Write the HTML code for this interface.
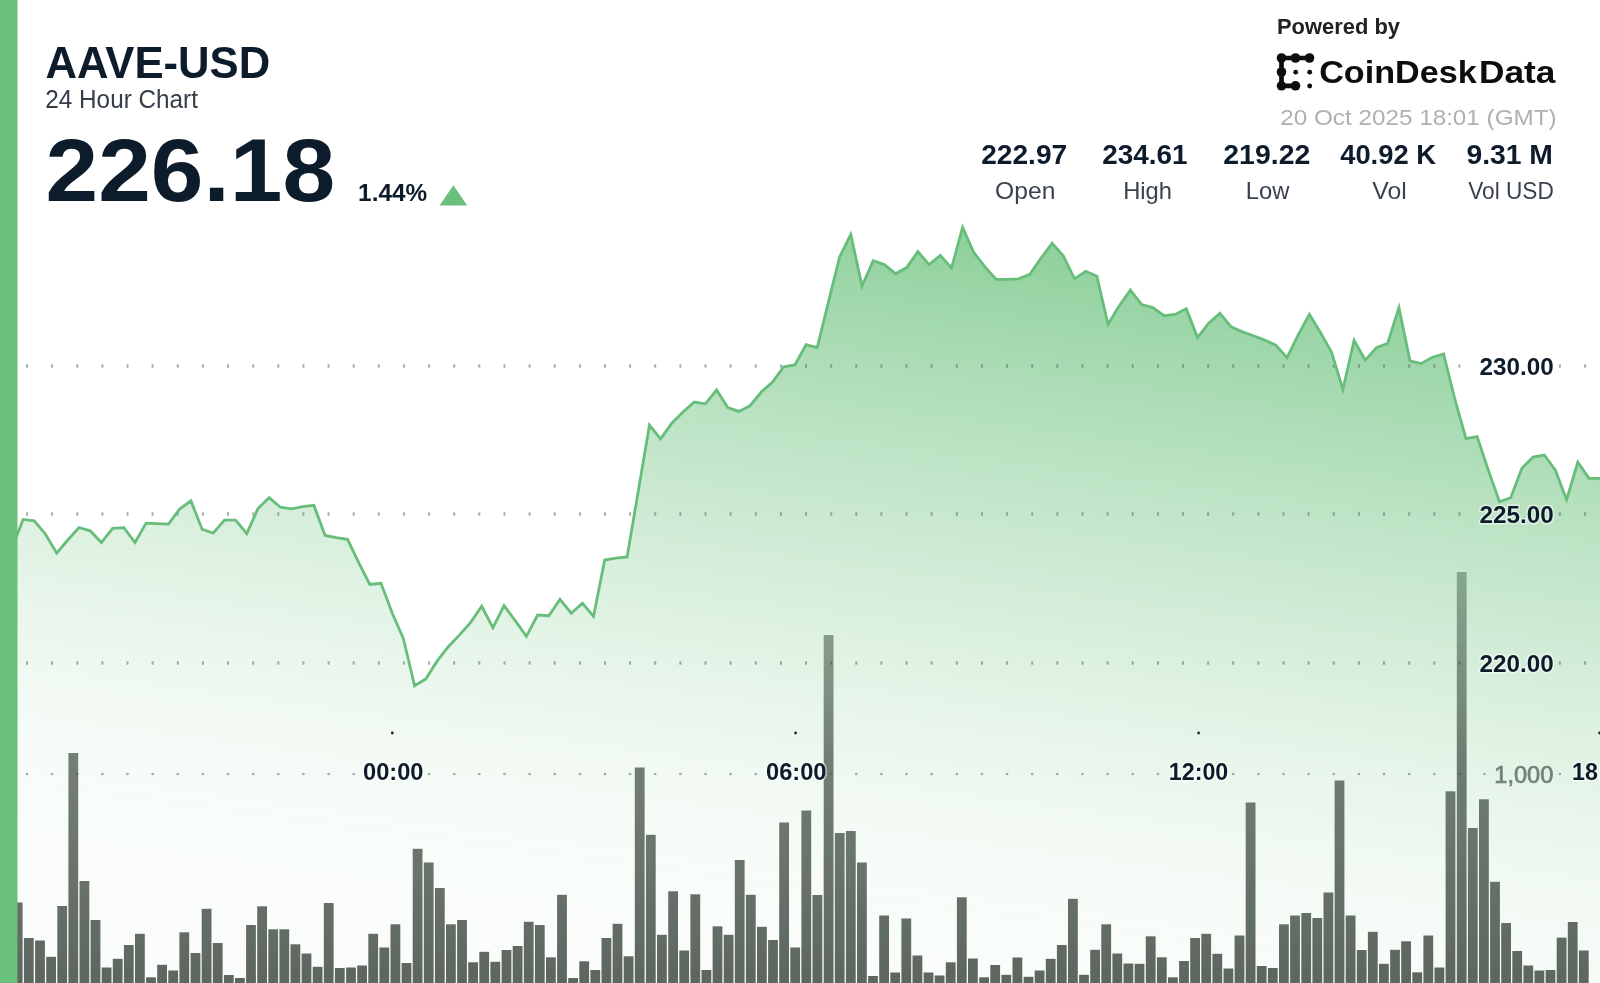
<!DOCTYPE html>
<html><head><meta charset="utf-8"><title>AAVE-USD 24 Hour Chart</title>
<style>
html,body{margin:0;padding:0;background:#fff;}
body{width:1600px;height:983px;overflow:hidden;font-family:"Liberation Sans",sans-serif;}
svg{display:block;font-family:"Liberation Sans",sans-serif;}
</style></head>
<body>
<svg width="1600" height="983" viewBox="0 0 1600 983">
<defs>
<linearGradient id="fillg" gradientUnits="userSpaceOnUse" x1="1045" y1="225" x2="944.5" y2="969.4">
<stop offset="0.0" stop-color="#68c07a" stop-opacity="0.77"/>
<stop offset="0.05" stop-color="#68c07a" stop-opacity="0.715"/>
<stop offset="0.1" stop-color="#68c07a" stop-opacity="0.661"/>
<stop offset="0.15" stop-color="#68c07a" stop-opacity="0.608"/>
<stop offset="0.2" stop-color="#68c07a" stop-opacity="0.557"/>
<stop offset="0.25" stop-color="#68c07a" stop-opacity="0.507"/>
<stop offset="0.3" stop-color="#68c07a" stop-opacity="0.459"/>
<stop offset="0.35" stop-color="#68c07a" stop-opacity="0.412"/>
<stop offset="0.4" stop-color="#68c07a" stop-opacity="0.367"/>
<stop offset="0.45" stop-color="#68c07a" stop-opacity="0.324"/>
<stop offset="0.5" stop-color="#68c07a" stop-opacity="0.282"/>
<stop offset="0.55" stop-color="#68c07a" stop-opacity="0.242"/>
<stop offset="0.6" stop-color="#68c07a" stop-opacity="0.204"/>
<stop offset="0.65" stop-color="#68c07a" stop-opacity="0.168"/>
<stop offset="0.7" stop-color="#68c07a" stop-opacity="0.137"/>
<stop offset="0.75" stop-color="#68c07a" stop-opacity="0.11"/>
<stop offset="0.8" stop-color="#68c07a" stop-opacity="0.085"/>
<stop offset="0.85" stop-color="#68c07a" stop-opacity="0.066"/>
<stop offset="0.9" stop-color="#68c07a" stop-opacity="0.05"/>
<stop offset="0.95" stop-color="#68c07a" stop-opacity="0.039"/>
<stop offset="1.0" stop-color="#68c07a" stop-opacity="0.03"/>
</linearGradient>
<linearGradient id="barg" gradientUnits="userSpaceOnUse" x1="0" y1="572" x2="0" y2="983">
<stop offset="0" stop-color="#34563f" stop-opacity="0.44"/>
<stop offset="0.17" stop-color="#36503e" stop-opacity="0.54"/>
<stop offset="0.45" stop-color="#38483d" stop-opacity="0.69"/>
<stop offset="1" stop-color="#38443b" stop-opacity="0.81"/>
</linearGradient>
<filter id="soft" x="0" y="0" width="1600" height="983" filterUnits="userSpaceOnUse"><feGaussianBlur stdDeviation="0.55"/></filter>
</defs>
<rect width="1600" height="983" fill="#ffffff"/>
<g filter="url(#soft)">
<!-- area fill -->
<path d="M11.9,548.2 L23.1,519.4 L34.3,520.8 L45.5,534.2 L56.7,553.2 L67.8,540.0 L79.0,527.5 L90.2,530.8 L101.4,542.5 L112.6,528.3 L123.8,527.6 L135.0,542.5 L146.1,523.1 L157.3,523.7 L168.5,524.1 L179.7,509.0 L190.9,500.8 L202.1,529.2 L213.2,533.1 L224.4,520.2 L235.6,520.2 L246.8,533.6 L258.0,508.5 L269.2,497.6 L280.4,507.2 L291.5,508.9 L302.7,506.7 L313.9,505.3 L325.1,535.5 L336.3,537.6 L347.5,539.3 L358.7,562.6 L369.8,584.5 L381.0,583.3 L392.2,613.0 L403.4,638.8 L414.6,685.8 L425.8,678.9 L436.9,661.4 L448.1,647.0 L459.3,635.1 L470.5,622.6 L481.7,606.3 L492.9,627.6 L504.1,605.7 L515.2,620.7 L526.4,636.3 L537.6,615.0 L548.8,615.7 L560.0,599.4 L571.2,613.2 L582.4,603.2 L593.5,616.4 L604.7,560.0 L615.9,558.2 L627.1,556.9 L638.3,491.0 L649.5,425.1 L660.6,438.9 L671.8,423.2 L683.0,412.0 L694.2,402.0 L705.4,403.8 L716.6,390.0 L727.8,407.6 L738.9,411.4 L750.1,405.7 L761.3,392.0 L772.5,382.0 L783.7,366.9 L794.9,365.0 L806.1,344.7 L817.2,347.7 L828.4,302.0 L839.6,257.0 L850.8,234.5 L862.0,286.0 L873.2,260.8 L884.3,264.6 L895.5,273.7 L906.7,267.6 L917.9,251.6 L929.1,264.6 L940.3,255.4 L951.5,268.0 L962.6,227.5 L973.8,252.5 L985.0,266.9 L996.2,279.4 L1007.4,279.4 L1018.6,278.8 L1029.8,274.4 L1040.9,258.2 L1052.1,243.1 L1063.3,255.7 L1074.5,278.8 L1085.7,271.3 L1096.9,276.3 L1108.0,324.4 L1119.2,305.7 L1130.4,290.1 L1141.6,304.5 L1152.8,307.6 L1164.0,315.7 L1175.2,314.4 L1186.3,308.8 L1197.5,337.6 L1208.7,323.2 L1219.9,313.2 L1231.1,326.9 L1242.3,331.9 L1253.5,335.7 L1264.6,340.1 L1275.8,345.1 L1287.0,357.6 L1298.2,335.0 L1309.4,314.4 L1320.6,332.6 L1331.7,352.6 L1342.9,389.5 L1354.1,340.3 L1365.3,360.1 L1376.5,347.6 L1387.7,343.2 L1398.9,307.5 L1410.0,360.8 L1421.2,363.6 L1432.4,357.2 L1443.6,354.0 L1454.8,399.0 L1466.0,438.7 L1477.1,436.6 L1488.3,470.2 L1499.5,501.7 L1510.7,497.7 L1521.9,468.2 L1533.1,457.0 L1544.3,455.0 L1555.4,470.2 L1566.6,499.7 L1577.8,462.1 L1589.0,478.4 L1600.2,478.4 L1600.2,983 L11.9,983 Z" fill="url(#fillg)"/>
<!-- grid dots -->
<g id="grid">
<rect x="26.0" y="364.3" width="2" height="3.4" fill="rgba(85,98,92,0.52)"/>
<rect x="51.1" y="364.3" width="2" height="3.4" fill="rgba(85,98,92,0.52)"/>
<rect x="76.3" y="364.3" width="2" height="3.4" fill="rgba(85,98,92,0.52)"/>
<rect x="101.4" y="364.3" width="2" height="3.4" fill="rgba(85,98,92,0.52)"/>
<rect x="126.5" y="364.3" width="2" height="3.4" fill="rgba(85,98,92,0.52)"/>
<rect x="151.6" y="364.3" width="2" height="3.4" fill="rgba(85,98,92,0.52)"/>
<rect x="176.8" y="364.3" width="2" height="3.4" fill="rgba(85,98,92,0.52)"/>
<rect x="201.9" y="364.3" width="2" height="3.4" fill="rgba(85,98,92,0.52)"/>
<rect x="227.0" y="364.3" width="2" height="3.4" fill="rgba(85,98,92,0.52)"/>
<rect x="252.2" y="364.3" width="2" height="3.4" fill="rgba(85,98,92,0.52)"/>
<rect x="277.3" y="364.3" width="2" height="3.4" fill="rgba(85,98,92,0.52)"/>
<rect x="302.4" y="364.3" width="2" height="3.4" fill="rgba(85,98,92,0.52)"/>
<rect x="327.6" y="364.3" width="2" height="3.4" fill="rgba(85,98,92,0.52)"/>
<rect x="352.7" y="364.3" width="2" height="3.4" fill="rgba(85,98,92,0.52)"/>
<rect x="377.8" y="364.3" width="2" height="3.4" fill="rgba(85,98,92,0.52)"/>
<rect x="402.9" y="364.3" width="2" height="3.4" fill="rgba(85,98,92,0.52)"/>
<rect x="428.1" y="364.3" width="2" height="3.4" fill="rgba(85,98,92,0.52)"/>
<rect x="453.2" y="364.3" width="2" height="3.4" fill="rgba(85,98,92,0.52)"/>
<rect x="478.3" y="364.3" width="2" height="3.4" fill="rgba(85,98,92,0.52)"/>
<rect x="503.5" y="364.3" width="2" height="3.4" fill="rgba(85,98,92,0.52)"/>
<rect x="528.6" y="364.3" width="2" height="3.4" fill="rgba(85,98,92,0.52)"/>
<rect x="553.7" y="364.3" width="2" height="3.4" fill="rgba(85,98,92,0.52)"/>
<rect x="578.9" y="364.3" width="2" height="3.4" fill="rgba(85,98,92,0.52)"/>
<rect x="604.0" y="364.3" width="2" height="3.4" fill="rgba(85,98,92,0.52)"/>
<rect x="629.1" y="364.3" width="2" height="3.4" fill="rgba(85,98,92,0.52)"/>
<rect x="654.2" y="364.3" width="2" height="3.4" fill="rgba(85,98,92,0.52)"/>
<rect x="679.4" y="364.3" width="2" height="3.4" fill="rgba(85,98,92,0.52)"/>
<rect x="704.5" y="364.3" width="2" height="3.4" fill="rgba(85,98,92,0.52)"/>
<rect x="729.6" y="364.3" width="2" height="3.4" fill="rgba(85,98,92,0.52)"/>
<rect x="754.8" y="364.3" width="2" height="3.4" fill="rgba(85,98,92,0.52)"/>
<rect x="779.9" y="364.3" width="2" height="3.4" fill="rgba(85,98,92,0.52)"/>
<rect x="805.0" y="364.3" width="2" height="3.4" fill="rgba(85,98,92,0.52)"/>
<rect x="830.2" y="364.3" width="2" height="3.4" fill="rgba(85,98,92,0.52)"/>
<rect x="855.3" y="364.3" width="2" height="3.4" fill="rgba(85,98,92,0.52)"/>
<rect x="880.4" y="364.3" width="2" height="3.4" fill="rgba(85,98,92,0.52)"/>
<rect x="905.5" y="364.3" width="2" height="3.4" fill="rgba(85,98,92,0.52)"/>
<rect x="930.7" y="364.3" width="2" height="3.4" fill="rgba(85,98,92,0.52)"/>
<rect x="955.8" y="364.3" width="2" height="3.4" fill="rgba(85,98,92,0.52)"/>
<rect x="980.9" y="364.3" width="2" height="3.4" fill="rgba(85,98,92,0.52)"/>
<rect x="1006.1" y="364.3" width="2" height="3.4" fill="rgba(85,98,92,0.52)"/>
<rect x="1031.2" y="364.3" width="2" height="3.4" fill="rgba(85,98,92,0.52)"/>
<rect x="1056.3" y="364.3" width="2" height="3.4" fill="rgba(85,98,92,0.52)"/>
<rect x="1081.5" y="364.3" width="2" height="3.4" fill="rgba(85,98,92,0.52)"/>
<rect x="1106.6" y="364.3" width="2" height="3.4" fill="rgba(85,98,92,0.52)"/>
<rect x="1131.7" y="364.3" width="2" height="3.4" fill="rgba(85,98,92,0.52)"/>
<rect x="1156.9" y="364.3" width="2" height="3.4" fill="rgba(85,98,92,0.52)"/>
<rect x="1182.0" y="364.3" width="2" height="3.4" fill="rgba(85,98,92,0.52)"/>
<rect x="1207.1" y="364.3" width="2" height="3.4" fill="rgba(85,98,92,0.52)"/>
<rect x="1232.2" y="364.3" width="2" height="3.4" fill="rgba(85,98,92,0.52)"/>
<rect x="1257.4" y="364.3" width="2" height="3.4" fill="rgba(85,98,92,0.52)"/>
<rect x="1282.5" y="364.3" width="2" height="3.4" fill="rgba(85,98,92,0.52)"/>
<rect x="1307.6" y="364.3" width="2" height="3.4" fill="rgba(85,98,92,0.52)"/>
<rect x="1332.8" y="364.3" width="2" height="3.4" fill="rgba(85,98,92,0.52)"/>
<rect x="1357.9" y="364.3" width="2" height="3.4" fill="rgba(85,98,92,0.52)"/>
<rect x="1383.0" y="364.3" width="2" height="3.4" fill="rgba(85,98,92,0.52)"/>
<rect x="1408.2" y="364.3" width="2" height="3.4" fill="rgba(85,98,92,0.52)"/>
<rect x="1433.3" y="364.3" width="2" height="3.4" fill="rgba(85,98,92,0.52)"/>
<rect x="1458.4" y="364.3" width="2" height="3.4" fill="rgba(85,98,92,0.52)"/>
<rect x="1558.9" y="364.3" width="2" height="3.4" fill="rgba(85,98,92,0.52)"/>
<rect x="1584.1" y="364.3" width="2" height="3.4" fill="rgba(85,98,92,0.52)"/>
<rect x="26.0" y="512.3" width="2" height="3.4" fill="rgba(85,98,92,0.52)"/>
<rect x="51.1" y="512.3" width="2" height="3.4" fill="rgba(85,98,92,0.52)"/>
<rect x="76.3" y="512.3" width="2" height="3.4" fill="rgba(85,98,92,0.52)"/>
<rect x="101.4" y="512.3" width="2" height="3.4" fill="rgba(85,98,92,0.52)"/>
<rect x="126.5" y="512.3" width="2" height="3.4" fill="rgba(85,98,92,0.52)"/>
<rect x="151.6" y="512.3" width="2" height="3.4" fill="rgba(85,98,92,0.52)"/>
<rect x="176.8" y="512.3" width="2" height="3.4" fill="rgba(85,98,92,0.52)"/>
<rect x="201.9" y="512.3" width="2" height="3.4" fill="rgba(85,98,92,0.52)"/>
<rect x="227.0" y="512.3" width="2" height="3.4" fill="rgba(85,98,92,0.52)"/>
<rect x="252.2" y="512.3" width="2" height="3.4" fill="rgba(85,98,92,0.52)"/>
<rect x="277.3" y="512.3" width="2" height="3.4" fill="rgba(85,98,92,0.52)"/>
<rect x="302.4" y="512.3" width="2" height="3.4" fill="rgba(85,98,92,0.52)"/>
<rect x="327.6" y="512.3" width="2" height="3.4" fill="rgba(85,98,92,0.52)"/>
<rect x="352.7" y="512.3" width="2" height="3.4" fill="rgba(85,98,92,0.52)"/>
<rect x="377.8" y="512.3" width="2" height="3.4" fill="rgba(85,98,92,0.52)"/>
<rect x="402.9" y="512.3" width="2" height="3.4" fill="rgba(85,98,92,0.52)"/>
<rect x="428.1" y="512.3" width="2" height="3.4" fill="rgba(85,98,92,0.52)"/>
<rect x="453.2" y="512.3" width="2" height="3.4" fill="rgba(85,98,92,0.52)"/>
<rect x="478.3" y="512.3" width="2" height="3.4" fill="rgba(85,98,92,0.52)"/>
<rect x="503.5" y="512.3" width="2" height="3.4" fill="rgba(85,98,92,0.52)"/>
<rect x="528.6" y="512.3" width="2" height="3.4" fill="rgba(85,98,92,0.52)"/>
<rect x="553.7" y="512.3" width="2" height="3.4" fill="rgba(85,98,92,0.52)"/>
<rect x="578.9" y="512.3" width="2" height="3.4" fill="rgba(85,98,92,0.52)"/>
<rect x="604.0" y="512.3" width="2" height="3.4" fill="rgba(85,98,92,0.52)"/>
<rect x="629.1" y="512.3" width="2" height="3.4" fill="rgba(85,98,92,0.52)"/>
<rect x="654.2" y="512.3" width="2" height="3.4" fill="rgba(85,98,92,0.52)"/>
<rect x="679.4" y="512.3" width="2" height="3.4" fill="rgba(85,98,92,0.52)"/>
<rect x="704.5" y="512.3" width="2" height="3.4" fill="rgba(85,98,92,0.52)"/>
<rect x="729.6" y="512.3" width="2" height="3.4" fill="rgba(85,98,92,0.52)"/>
<rect x="754.8" y="512.3" width="2" height="3.4" fill="rgba(85,98,92,0.52)"/>
<rect x="779.9" y="512.3" width="2" height="3.4" fill="rgba(85,98,92,0.52)"/>
<rect x="805.0" y="512.3" width="2" height="3.4" fill="rgba(85,98,92,0.52)"/>
<rect x="830.2" y="512.3" width="2" height="3.4" fill="rgba(85,98,92,0.52)"/>
<rect x="855.3" y="512.3" width="2" height="3.4" fill="rgba(85,98,92,0.52)"/>
<rect x="880.4" y="512.3" width="2" height="3.4" fill="rgba(85,98,92,0.52)"/>
<rect x="905.5" y="512.3" width="2" height="3.4" fill="rgba(85,98,92,0.52)"/>
<rect x="930.7" y="512.3" width="2" height="3.4" fill="rgba(85,98,92,0.52)"/>
<rect x="955.8" y="512.3" width="2" height="3.4" fill="rgba(85,98,92,0.52)"/>
<rect x="980.9" y="512.3" width="2" height="3.4" fill="rgba(85,98,92,0.52)"/>
<rect x="1006.1" y="512.3" width="2" height="3.4" fill="rgba(85,98,92,0.52)"/>
<rect x="1031.2" y="512.3" width="2" height="3.4" fill="rgba(85,98,92,0.52)"/>
<rect x="1056.3" y="512.3" width="2" height="3.4" fill="rgba(85,98,92,0.52)"/>
<rect x="1081.5" y="512.3" width="2" height="3.4" fill="rgba(85,98,92,0.52)"/>
<rect x="1106.6" y="512.3" width="2" height="3.4" fill="rgba(85,98,92,0.52)"/>
<rect x="1131.7" y="512.3" width="2" height="3.4" fill="rgba(85,98,92,0.52)"/>
<rect x="1156.9" y="512.3" width="2" height="3.4" fill="rgba(85,98,92,0.52)"/>
<rect x="1182.0" y="512.3" width="2" height="3.4" fill="rgba(85,98,92,0.52)"/>
<rect x="1207.1" y="512.3" width="2" height="3.4" fill="rgba(85,98,92,0.52)"/>
<rect x="1232.2" y="512.3" width="2" height="3.4" fill="rgba(85,98,92,0.52)"/>
<rect x="1257.4" y="512.3" width="2" height="3.4" fill="rgba(85,98,92,0.52)"/>
<rect x="1282.5" y="512.3" width="2" height="3.4" fill="rgba(85,98,92,0.52)"/>
<rect x="1307.6" y="512.3" width="2" height="3.4" fill="rgba(85,98,92,0.52)"/>
<rect x="1332.8" y="512.3" width="2" height="3.4" fill="rgba(85,98,92,0.52)"/>
<rect x="1357.9" y="512.3" width="2" height="3.4" fill="rgba(85,98,92,0.52)"/>
<rect x="1383.0" y="512.3" width="2" height="3.4" fill="rgba(85,98,92,0.52)"/>
<rect x="1408.2" y="512.3" width="2" height="3.4" fill="rgba(85,98,92,0.52)"/>
<rect x="1433.3" y="512.3" width="2" height="3.4" fill="rgba(85,98,92,0.52)"/>
<rect x="1458.4" y="512.3" width="2" height="3.4" fill="rgba(85,98,92,0.52)"/>
<rect x="1558.9" y="512.3" width="2" height="3.4" fill="rgba(85,98,92,0.52)"/>
<rect x="1584.1" y="512.3" width="2" height="3.4" fill="rgba(85,98,92,0.52)"/>
<rect x="26.0" y="661.3" width="2" height="3.4" fill="rgba(85,98,92,0.52)"/>
<rect x="51.1" y="661.3" width="2" height="3.4" fill="rgba(85,98,92,0.52)"/>
<rect x="76.3" y="661.3" width="2" height="3.4" fill="rgba(85,98,92,0.52)"/>
<rect x="101.4" y="661.3" width="2" height="3.4" fill="rgba(85,98,92,0.52)"/>
<rect x="126.5" y="661.3" width="2" height="3.4" fill="rgba(85,98,92,0.52)"/>
<rect x="151.6" y="661.3" width="2" height="3.4" fill="rgba(85,98,92,0.52)"/>
<rect x="176.8" y="661.3" width="2" height="3.4" fill="rgba(85,98,92,0.52)"/>
<rect x="201.9" y="661.3" width="2" height="3.4" fill="rgba(85,98,92,0.52)"/>
<rect x="227.0" y="661.3" width="2" height="3.4" fill="rgba(85,98,92,0.52)"/>
<rect x="252.2" y="661.3" width="2" height="3.4" fill="rgba(85,98,92,0.52)"/>
<rect x="277.3" y="661.3" width="2" height="3.4" fill="rgba(85,98,92,0.52)"/>
<rect x="302.4" y="661.3" width="2" height="3.4" fill="rgba(85,98,92,0.52)"/>
<rect x="327.6" y="661.3" width="2" height="3.4" fill="rgba(85,98,92,0.52)"/>
<rect x="352.7" y="661.3" width="2" height="3.4" fill="rgba(85,98,92,0.52)"/>
<rect x="377.8" y="661.3" width="2" height="3.4" fill="rgba(85,98,92,0.52)"/>
<rect x="402.9" y="661.3" width="2" height="3.4" fill="rgba(85,98,92,0.52)"/>
<rect x="428.1" y="661.3" width="2" height="3.4" fill="rgba(85,98,92,0.52)"/>
<rect x="453.2" y="661.3" width="2" height="3.4" fill="rgba(85,98,92,0.52)"/>
<rect x="478.3" y="661.3" width="2" height="3.4" fill="rgba(85,98,92,0.52)"/>
<rect x="503.5" y="661.3" width="2" height="3.4" fill="rgba(85,98,92,0.52)"/>
<rect x="528.6" y="661.3" width="2" height="3.4" fill="rgba(85,98,92,0.52)"/>
<rect x="553.7" y="661.3" width="2" height="3.4" fill="rgba(85,98,92,0.52)"/>
<rect x="578.9" y="661.3" width="2" height="3.4" fill="rgba(85,98,92,0.52)"/>
<rect x="604.0" y="661.3" width="2" height="3.4" fill="rgba(85,98,92,0.52)"/>
<rect x="629.1" y="661.3" width="2" height="3.4" fill="rgba(85,98,92,0.52)"/>
<rect x="654.2" y="661.3" width="2" height="3.4" fill="rgba(85,98,92,0.52)"/>
<rect x="679.4" y="661.3" width="2" height="3.4" fill="rgba(85,98,92,0.52)"/>
<rect x="704.5" y="661.3" width="2" height="3.4" fill="rgba(85,98,92,0.52)"/>
<rect x="729.6" y="661.3" width="2" height="3.4" fill="rgba(85,98,92,0.52)"/>
<rect x="754.8" y="661.3" width="2" height="3.4" fill="rgba(85,98,92,0.52)"/>
<rect x="779.9" y="661.3" width="2" height="3.4" fill="rgba(85,98,92,0.52)"/>
<rect x="805.0" y="661.3" width="2" height="3.4" fill="rgba(85,98,92,0.52)"/>
<rect x="830.2" y="661.3" width="2" height="3.4" fill="rgba(85,98,92,0.52)"/>
<rect x="855.3" y="661.3" width="2" height="3.4" fill="rgba(85,98,92,0.52)"/>
<rect x="880.4" y="661.3" width="2" height="3.4" fill="rgba(85,98,92,0.52)"/>
<rect x="905.5" y="661.3" width="2" height="3.4" fill="rgba(85,98,92,0.52)"/>
<rect x="930.7" y="661.3" width="2" height="3.4" fill="rgba(85,98,92,0.52)"/>
<rect x="955.8" y="661.3" width="2" height="3.4" fill="rgba(85,98,92,0.52)"/>
<rect x="980.9" y="661.3" width="2" height="3.4" fill="rgba(85,98,92,0.52)"/>
<rect x="1006.1" y="661.3" width="2" height="3.4" fill="rgba(85,98,92,0.52)"/>
<rect x="1031.2" y="661.3" width="2" height="3.4" fill="rgba(85,98,92,0.52)"/>
<rect x="1056.3" y="661.3" width="2" height="3.4" fill="rgba(85,98,92,0.52)"/>
<rect x="1081.5" y="661.3" width="2" height="3.4" fill="rgba(85,98,92,0.52)"/>
<rect x="1106.6" y="661.3" width="2" height="3.4" fill="rgba(85,98,92,0.52)"/>
<rect x="1131.7" y="661.3" width="2" height="3.4" fill="rgba(85,98,92,0.52)"/>
<rect x="1156.9" y="661.3" width="2" height="3.4" fill="rgba(85,98,92,0.52)"/>
<rect x="1182.0" y="661.3" width="2" height="3.4" fill="rgba(85,98,92,0.52)"/>
<rect x="1207.1" y="661.3" width="2" height="3.4" fill="rgba(85,98,92,0.52)"/>
<rect x="1232.2" y="661.3" width="2" height="3.4" fill="rgba(85,98,92,0.52)"/>
<rect x="1257.4" y="661.3" width="2" height="3.4" fill="rgba(85,98,92,0.52)"/>
<rect x="1282.5" y="661.3" width="2" height="3.4" fill="rgba(85,98,92,0.52)"/>
<rect x="1307.6" y="661.3" width="2" height="3.4" fill="rgba(85,98,92,0.52)"/>
<rect x="1332.8" y="661.3" width="2" height="3.4" fill="rgba(85,98,92,0.52)"/>
<rect x="1357.9" y="661.3" width="2" height="3.4" fill="rgba(85,98,92,0.52)"/>
<rect x="1383.0" y="661.3" width="2" height="3.4" fill="rgba(85,98,92,0.52)"/>
<rect x="1408.2" y="661.3" width="2" height="3.4" fill="rgba(85,98,92,0.52)"/>
<rect x="1433.3" y="661.3" width="2" height="3.4" fill="rgba(85,98,92,0.52)"/>
<rect x="1458.4" y="661.3" width="2" height="3.4" fill="rgba(85,98,92,0.52)"/>
<rect x="1558.9" y="661.3" width="2" height="3.4" fill="rgba(85,98,92,0.52)"/>
<rect x="1584.1" y="661.3" width="2" height="3.4" fill="rgba(85,98,92,0.52)"/>
<circle cx="27.0" cy="774" r="1.35" fill="rgba(95,105,100,0.55)"/>
<circle cx="52.1" cy="774" r="1.35" fill="rgba(95,105,100,0.55)"/>
<circle cx="77.3" cy="774" r="1.35" fill="rgba(95,105,100,0.55)"/>
<circle cx="102.4" cy="774" r="1.35" fill="rgba(95,105,100,0.55)"/>
<circle cx="127.5" cy="774" r="1.35" fill="rgba(95,105,100,0.55)"/>
<circle cx="152.6" cy="774" r="1.35" fill="rgba(95,105,100,0.55)"/>
<circle cx="177.8" cy="774" r="1.35" fill="rgba(95,105,100,0.55)"/>
<circle cx="202.9" cy="774" r="1.35" fill="rgba(95,105,100,0.55)"/>
<circle cx="228.0" cy="774" r="1.35" fill="rgba(95,105,100,0.55)"/>
<circle cx="253.2" cy="774" r="1.35" fill="rgba(95,105,100,0.55)"/>
<circle cx="278.3" cy="774" r="1.35" fill="rgba(95,105,100,0.55)"/>
<circle cx="303.4" cy="774" r="1.35" fill="rgba(95,105,100,0.55)"/>
<circle cx="328.6" cy="774" r="1.35" fill="rgba(95,105,100,0.55)"/>
<circle cx="353.7" cy="774" r="1.35" fill="rgba(95,105,100,0.55)"/>
<circle cx="429.1" cy="774" r="1.35" fill="rgba(95,105,100,0.55)"/>
<circle cx="454.2" cy="774" r="1.35" fill="rgba(95,105,100,0.55)"/>
<circle cx="479.3" cy="774" r="1.35" fill="rgba(95,105,100,0.55)"/>
<circle cx="504.5" cy="774" r="1.35" fill="rgba(95,105,100,0.55)"/>
<circle cx="529.6" cy="774" r="1.35" fill="rgba(95,105,100,0.55)"/>
<circle cx="554.7" cy="774" r="1.35" fill="rgba(95,105,100,0.55)"/>
<circle cx="579.9" cy="774" r="1.35" fill="rgba(95,105,100,0.55)"/>
<circle cx="605.0" cy="774" r="1.35" fill="rgba(95,105,100,0.55)"/>
<circle cx="630.1" cy="774" r="1.35" fill="rgba(95,105,100,0.55)"/>
<circle cx="655.2" cy="774" r="1.35" fill="rgba(95,105,100,0.55)"/>
<circle cx="680.4" cy="774" r="1.35" fill="rgba(95,105,100,0.55)"/>
<circle cx="705.5" cy="774" r="1.35" fill="rgba(95,105,100,0.55)"/>
<circle cx="730.6" cy="774" r="1.35" fill="rgba(95,105,100,0.55)"/>
<circle cx="755.8" cy="774" r="1.35" fill="rgba(95,105,100,0.55)"/>
<circle cx="831.2" cy="774" r="1.35" fill="rgba(95,105,100,0.55)"/>
<circle cx="856.3" cy="774" r="1.35" fill="rgba(95,105,100,0.55)"/>
<circle cx="881.4" cy="774" r="1.35" fill="rgba(95,105,100,0.55)"/>
<circle cx="906.5" cy="774" r="1.35" fill="rgba(95,105,100,0.55)"/>
<circle cx="931.7" cy="774" r="1.35" fill="rgba(95,105,100,0.55)"/>
<circle cx="956.8" cy="774" r="1.35" fill="rgba(95,105,100,0.55)"/>
<circle cx="981.9" cy="774" r="1.35" fill="rgba(95,105,100,0.55)"/>
<circle cx="1007.1" cy="774" r="1.35" fill="rgba(95,105,100,0.55)"/>
<circle cx="1032.2" cy="774" r="1.35" fill="rgba(95,105,100,0.55)"/>
<circle cx="1057.3" cy="774" r="1.35" fill="rgba(95,105,100,0.55)"/>
<circle cx="1082.5" cy="774" r="1.35" fill="rgba(95,105,100,0.55)"/>
<circle cx="1107.6" cy="774" r="1.35" fill="rgba(95,105,100,0.55)"/>
<circle cx="1132.7" cy="774" r="1.35" fill="rgba(95,105,100,0.55)"/>
<circle cx="1157.9" cy="774" r="1.35" fill="rgba(95,105,100,0.55)"/>
<circle cx="1233.2" cy="774" r="1.35" fill="rgba(95,105,100,0.55)"/>
<circle cx="1258.4" cy="774" r="1.35" fill="rgba(95,105,100,0.55)"/>
<circle cx="1283.5" cy="774" r="1.35" fill="rgba(95,105,100,0.55)"/>
<circle cx="1308.6" cy="774" r="1.35" fill="rgba(95,105,100,0.55)"/>
<circle cx="1333.8" cy="774" r="1.35" fill="rgba(95,105,100,0.55)"/>
<circle cx="1358.9" cy="774" r="1.35" fill="rgba(95,105,100,0.55)"/>
<circle cx="1384.0" cy="774" r="1.35" fill="rgba(95,105,100,0.55)"/>
<circle cx="1409.2" cy="774" r="1.35" fill="rgba(95,105,100,0.55)"/>
<circle cx="1434.3" cy="774" r="1.35" fill="rgba(95,105,100,0.55)"/>
<circle cx="1459.4" cy="774" r="1.35" fill="rgba(95,105,100,0.55)"/>
<circle cx="1484.5" cy="774" r="1.35" fill="rgba(95,105,100,0.55)"/>
<circle cx="1559.9" cy="774" r="1.35" fill="rgba(95,105,100,0.55)"/>
</g>
<!-- price line -->
<path d="M11.9,548.2 L23.1,519.4 L34.3,520.8 L45.5,534.2 L56.7,553.2 L67.8,540.0 L79.0,527.5 L90.2,530.8 L101.4,542.5 L112.6,528.3 L123.8,527.6 L135.0,542.5 L146.1,523.1 L157.3,523.7 L168.5,524.1 L179.7,509.0 L190.9,500.8 L202.1,529.2 L213.2,533.1 L224.4,520.2 L235.6,520.2 L246.8,533.6 L258.0,508.5 L269.2,497.6 L280.4,507.2 L291.5,508.9 L302.7,506.7 L313.9,505.3 L325.1,535.5 L336.3,537.6 L347.5,539.3 L358.7,562.6 L369.8,584.5 L381.0,583.3 L392.2,613.0 L403.4,638.8 L414.6,685.8 L425.8,678.9 L436.9,661.4 L448.1,647.0 L459.3,635.1 L470.5,622.6 L481.7,606.3 L492.9,627.6 L504.1,605.7 L515.2,620.7 L526.4,636.3 L537.6,615.0 L548.8,615.7 L560.0,599.4 L571.2,613.2 L582.4,603.2 L593.5,616.4 L604.7,560.0 L615.9,558.2 L627.1,556.9 L638.3,491.0 L649.5,425.1 L660.6,438.9 L671.8,423.2 L683.0,412.0 L694.2,402.0 L705.4,403.8 L716.6,390.0 L727.8,407.6 L738.9,411.4 L750.1,405.7 L761.3,392.0 L772.5,382.0 L783.7,366.9 L794.9,365.0 L806.1,344.7 L817.2,347.7 L828.4,302.0 L839.6,257.0 L850.8,234.5 L862.0,286.0 L873.2,260.8 L884.3,264.6 L895.5,273.7 L906.7,267.6 L917.9,251.6 L929.1,264.6 L940.3,255.4 L951.5,268.0 L962.6,227.5 L973.8,252.5 L985.0,266.9 L996.2,279.4 L1007.4,279.4 L1018.6,278.8 L1029.8,274.4 L1040.9,258.2 L1052.1,243.1 L1063.3,255.7 L1074.5,278.8 L1085.7,271.3 L1096.9,276.3 L1108.0,324.4 L1119.2,305.7 L1130.4,290.1 L1141.6,304.5 L1152.8,307.6 L1164.0,315.7 L1175.2,314.4 L1186.3,308.8 L1197.5,337.6 L1208.7,323.2 L1219.9,313.2 L1231.1,326.9 L1242.3,331.9 L1253.5,335.7 L1264.6,340.1 L1275.8,345.1 L1287.0,357.6 L1298.2,335.0 L1309.4,314.4 L1320.6,332.6 L1331.7,352.6 L1342.9,389.5 L1354.1,340.3 L1365.3,360.1 L1376.5,347.6 L1387.7,343.2 L1398.9,307.5 L1410.0,360.8 L1421.2,363.6 L1432.4,357.2 L1443.6,354.0 L1454.8,399.0 L1466.0,438.7 L1477.1,436.6 L1488.3,470.2 L1499.5,501.7 L1510.7,497.7 L1521.9,468.2 L1533.1,457.0 L1544.3,455.0 L1555.4,470.2 L1566.6,499.7 L1577.8,462.1 L1589.0,478.4 L1600.2,478.4" fill="none" stroke="#66be7a" stroke-width="2.8" stroke-linejoin="miter" stroke-miterlimit="8" stroke-linecap="butt"/>
<!-- volume bars -->
<g fill="url(#barg)">
<rect x="12.8" y="902.5" width="9.8" height="82.5"/>
<rect x="23.9" y="938.0" width="9.8" height="47.0"/>
<rect x="35.1" y="940.5" width="9.8" height="44.5"/>
<rect x="46.2" y="956.8" width="9.8" height="28.2"/>
<rect x="57.3" y="906.0" width="9.8" height="79.0"/>
<rect x="68.4" y="753.0" width="9.8" height="232.0"/>
<rect x="79.5" y="881.0" width="9.8" height="104.0"/>
<rect x="90.6" y="920.0" width="9.8" height="65.0"/>
<rect x="101.7" y="967.5" width="9.8" height="17.5"/>
<rect x="112.8" y="958.8" width="9.8" height="26.2"/>
<rect x="123.9" y="945.0" width="9.8" height="40.0"/>
<rect x="135.0" y="933.8" width="9.8" height="51.2"/>
<rect x="146.1" y="977.3" width="9.8" height="7.7"/>
<rect x="157.2" y="964.8" width="9.8" height="20.2"/>
<rect x="168.3" y="970.5" width="9.8" height="14.5"/>
<rect x="179.4" y="932.3" width="9.8" height="52.7"/>
<rect x="190.6" y="953.0" width="9.8" height="32.0"/>
<rect x="201.7" y="908.8" width="9.8" height="76.2"/>
<rect x="212.8" y="943.0" width="9.8" height="42.0"/>
<rect x="223.9" y="975.0" width="9.8" height="10.0"/>
<rect x="235.0" y="978.0" width="9.8" height="7.0"/>
<rect x="246.1" y="925.0" width="9.8" height="60.0"/>
<rect x="257.2" y="906.3" width="9.8" height="78.7"/>
<rect x="268.3" y="929.3" width="9.8" height="55.7"/>
<rect x="279.4" y="929.3" width="9.8" height="55.7"/>
<rect x="290.5" y="944.3" width="9.8" height="40.7"/>
<rect x="301.6" y="953.5" width="9.8" height="31.5"/>
<rect x="312.7" y="966.8" width="9.8" height="18.2"/>
<rect x="323.8" y="903.0" width="9.8" height="82.0"/>
<rect x="334.9" y="968.0" width="9.8" height="17.0"/>
<rect x="346.1" y="967.5" width="9.8" height="17.5"/>
<rect x="357.2" y="965.5" width="9.8" height="19.5"/>
<rect x="368.3" y="933.8" width="9.8" height="51.2"/>
<rect x="379.4" y="947.5" width="9.8" height="37.5"/>
<rect x="390.5" y="924.3" width="9.8" height="60.7"/>
<rect x="401.6" y="963.0" width="9.8" height="22.0"/>
<rect x="412.7" y="848.8" width="9.8" height="136.2"/>
<rect x="423.8" y="862.5" width="9.8" height="122.5"/>
<rect x="434.9" y="888.0" width="9.8" height="97.0"/>
<rect x="446.0" y="924.3" width="9.8" height="60.7"/>
<rect x="457.1" y="920.0" width="9.8" height="65.0"/>
<rect x="468.2" y="962.3" width="9.8" height="22.7"/>
<rect x="479.3" y="951.8" width="9.8" height="33.2"/>
<rect x="490.4" y="961.8" width="9.8" height="23.2"/>
<rect x="501.6" y="950.0" width="9.8" height="35.0"/>
<rect x="512.7" y="946.0" width="9.8" height="39.0"/>
<rect x="523.8" y="921.8" width="9.8" height="63.2"/>
<rect x="534.9" y="925.0" width="9.8" height="60.0"/>
<rect x="546.0" y="957.3" width="9.8" height="27.7"/>
<rect x="557.1" y="894.8" width="9.8" height="90.2"/>
<rect x="568.2" y="978.0" width="9.8" height="7.0"/>
<rect x="579.3" y="961.3" width="9.8" height="23.7"/>
<rect x="590.4" y="970.0" width="9.8" height="15.0"/>
<rect x="601.5" y="938.0" width="9.8" height="47.0"/>
<rect x="612.6" y="923.8" width="9.8" height="61.2"/>
<rect x="623.7" y="956.3" width="9.8" height="28.7"/>
<rect x="634.8" y="767.5" width="9.8" height="217.5"/>
<rect x="645.9" y="834.8" width="9.8" height="150.2"/>
<rect x="657.0" y="934.8" width="9.8" height="50.2"/>
<rect x="668.2" y="891.3" width="9.8" height="93.7"/>
<rect x="679.3" y="950.5" width="9.8" height="34.5"/>
<rect x="690.4" y="894.3" width="9.8" height="90.7"/>
<rect x="701.5" y="970.0" width="9.8" height="15.0"/>
<rect x="712.6" y="926.3" width="9.8" height="58.7"/>
<rect x="723.7" y="934.8" width="9.8" height="50.2"/>
<rect x="734.8" y="860.0" width="9.8" height="125.0"/>
<rect x="745.9" y="894.8" width="9.8" height="90.2"/>
<rect x="757.0" y="926.8" width="9.8" height="58.2"/>
<rect x="768.1" y="940.0" width="9.8" height="45.0"/>
<rect x="779.2" y="822.5" width="9.8" height="162.5"/>
<rect x="790.3" y="947.5" width="9.8" height="37.5"/>
<rect x="801.4" y="810.5" width="9.8" height="174.5"/>
<rect x="812.5" y="895.0" width="9.8" height="90.0"/>
<rect x="823.7" y="635.0" width="9.8" height="350.0"/>
<rect x="834.8" y="833.0" width="9.8" height="152.0"/>
<rect x="845.9" y="831.0" width="9.8" height="154.0"/>
<rect x="857.0" y="862.5" width="9.8" height="122.5"/>
<rect x="868.1" y="976.0" width="9.8" height="9.0"/>
<rect x="879.2" y="915.5" width="9.8" height="69.5"/>
<rect x="890.3" y="972.5" width="9.8" height="12.5"/>
<rect x="901.4" y="918.5" width="9.8" height="66.5"/>
<rect x="912.5" y="955.5" width="9.8" height="29.5"/>
<rect x="923.6" y="972.5" width="9.8" height="12.5"/>
<rect x="934.7" y="975.5" width="9.8" height="9.5"/>
<rect x="945.8" y="962.3" width="9.8" height="22.7"/>
<rect x="956.9" y="897.3" width="9.8" height="87.7"/>
<rect x="968.0" y="958.5" width="9.8" height="26.5"/>
<rect x="979.2" y="977.3" width="9.8" height="7.7"/>
<rect x="990.3" y="965.0" width="9.8" height="20.0"/>
<rect x="1001.4" y="974.8" width="9.8" height="10.2"/>
<rect x="1012.5" y="957.5" width="9.8" height="27.5"/>
<rect x="1023.6" y="976.8" width="9.8" height="8.2"/>
<rect x="1034.7" y="970.5" width="9.8" height="14.5"/>
<rect x="1045.8" y="958.8" width="9.8" height="26.2"/>
<rect x="1056.9" y="945.0" width="9.8" height="40.0"/>
<rect x="1068.0" y="898.8" width="9.8" height="86.2"/>
<rect x="1079.1" y="974.8" width="9.8" height="10.2"/>
<rect x="1090.2" y="949.8" width="9.8" height="35.2"/>
<rect x="1101.3" y="924.3" width="9.8" height="60.7"/>
<rect x="1112.4" y="953.5" width="9.8" height="31.5"/>
<rect x="1123.5" y="963.5" width="9.8" height="21.5"/>
<rect x="1134.6" y="963.8" width="9.8" height="21.2"/>
<rect x="1145.8" y="936.3" width="9.8" height="48.7"/>
<rect x="1156.9" y="957.3" width="9.8" height="27.7"/>
<rect x="1168.0" y="977.3" width="9.8" height="7.7"/>
<rect x="1179.1" y="961.0" width="9.8" height="24.0"/>
<rect x="1190.2" y="938.0" width="9.8" height="47.0"/>
<rect x="1201.3" y="933.8" width="9.8" height="51.2"/>
<rect x="1212.4" y="953.8" width="9.8" height="31.2"/>
<rect x="1223.5" y="968.5" width="9.8" height="16.5"/>
<rect x="1234.6" y="935.5" width="9.8" height="49.5"/>
<rect x="1245.7" y="802.5" width="9.8" height="182.5"/>
<rect x="1256.8" y="966.0" width="9.8" height="19.0"/>
<rect x="1267.9" y="968.0" width="9.8" height="17.0"/>
<rect x="1279.0" y="924.3" width="9.8" height="60.7"/>
<rect x="1290.1" y="915.5" width="9.8" height="69.5"/>
<rect x="1301.3" y="913.0" width="9.8" height="72.0"/>
<rect x="1312.4" y="918.0" width="9.8" height="67.0"/>
<rect x="1323.5" y="892.5" width="9.8" height="92.5"/>
<rect x="1334.6" y="780.5" width="9.8" height="204.5"/>
<rect x="1345.7" y="915.5" width="9.8" height="69.5"/>
<rect x="1356.8" y="950.0" width="9.8" height="35.0"/>
<rect x="1367.9" y="931.8" width="9.8" height="53.2"/>
<rect x="1379.0" y="963.8" width="9.8" height="21.2"/>
<rect x="1390.1" y="949.8" width="9.8" height="35.2"/>
<rect x="1401.2" y="941.3" width="9.8" height="43.7"/>
<rect x="1412.3" y="972.3" width="9.8" height="12.7"/>
<rect x="1423.4" y="935.5" width="9.8" height="49.5"/>
<rect x="1434.5" y="967.5" width="9.8" height="17.5"/>
<rect x="1445.6" y="791.3" width="9.8" height="193.7"/>
<rect x="1456.8" y="572.0" width="9.8" height="413.0"/>
<rect x="1467.9" y="828.0" width="9.8" height="157.0"/>
<rect x="1479.0" y="799.3" width="9.8" height="185.7"/>
<rect x="1490.1" y="881.8" width="9.8" height="103.2"/>
<rect x="1501.2" y="923.0" width="9.8" height="62.0"/>
<rect x="1512.3" y="951.0" width="9.8" height="34.0"/>
<rect x="1523.4" y="965.5" width="9.8" height="19.5"/>
<rect x="1534.5" y="970.5" width="9.8" height="14.5"/>
<rect x="1545.6" y="970.0" width="9.8" height="15.0"/>
<rect x="1556.7" y="937.6" width="9.8" height="47.4"/>
<rect x="1567.8" y="922.0" width="9.8" height="63.0"/>
<rect x="1578.9" y="950.5" width="9.8" height="34.5"/>
</g>
<!-- axis ticks -->
<g fill="#1c2430">
<circle cx="392.3" cy="733" r="1.4"/><circle cx="795.6" cy="733" r="1.4"/><circle cx="1198.6" cy="733" r="1.4"/><circle cx="1599.6" cy="733" r="1.4"/>
</g>
<!-- axis labels -->
<g>
<text x="1479.5" y="374.6" font-size="24" font-weight="bold" fill="#0e1a2c" text-anchor="start" textLength="74.2" lengthAdjust="spacingAndGlyphs" stroke="#ffffff" stroke-opacity="0.55" stroke-width="3" paint-order="stroke" stroke-linejoin="round">230.00</text>
<text x="1479.5" y="522.8" font-size="24" font-weight="bold" fill="#0e1a2c" text-anchor="start" textLength="74.2" lengthAdjust="spacingAndGlyphs" stroke="#ffffff" stroke-opacity="0.55" stroke-width="3" paint-order="stroke" stroke-linejoin="round">225.00</text>
<text x="1479.5" y="671.6" font-size="24" font-weight="bold" fill="#0e1a2c" text-anchor="start" textLength="74.2" lengthAdjust="spacingAndGlyphs" stroke="#ffffff" stroke-opacity="0.55" stroke-width="3" paint-order="stroke" stroke-linejoin="round">220.00</text>
<text x="363" y="779.5" font-size="24" font-weight="bold" fill="#0e1a2c" text-anchor="start" textLength="60.5" lengthAdjust="spacingAndGlyphs" stroke="#ffffff" stroke-opacity="0.55" stroke-width="3" paint-order="stroke" stroke-linejoin="round">00:00</text>
<text x="766" y="779.5" font-size="24" font-weight="bold" fill="#0e1a2c" text-anchor="start" textLength="60.5" lengthAdjust="spacingAndGlyphs" stroke="#ffffff" stroke-opacity="0.55" stroke-width="3" paint-order="stroke" stroke-linejoin="round">06:00</text>
<text x="1168.8" y="779.5" font-size="24" font-weight="bold" fill="#0e1a2c" text-anchor="start" textLength="59.5" lengthAdjust="spacingAndGlyphs" stroke="#ffffff" stroke-opacity="0.55" stroke-width="3" paint-order="stroke" stroke-linejoin="round">12:00</text>
<text x="1572" y="779.5" font-size="24" font-weight="bold" fill="#0e1a2c" text-anchor="start" textLength="59.5" lengthAdjust="spacingAndGlyphs" stroke="#ffffff" stroke-opacity="0.55" stroke-width="3" paint-order="stroke" stroke-linejoin="round">18:00</text>
<text x="1494.3" y="783" font-size="24.6" font-weight="normal" fill="#738076" text-anchor="start" textLength="59" lengthAdjust="spacingAndGlyphs" stroke="#738076" stroke-width="0.7">1,000</text>
</g>
<!-- left green strip -->
<rect x="0" y="0" width="17.5" height="983" fill="#68c07a"/>
<!-- header left -->
<text x="45.6" y="77.6" font-size="45.2" font-weight="bold" fill="#0e1a2c" text-anchor="start" textLength="224.6" lengthAdjust="spacingAndGlyphs">AAVE-USD</text>
<text x="45.3" y="107.5" font-size="25" font-weight="normal" fill="#343c49" text-anchor="start" textLength="152.6" lengthAdjust="spacingAndGlyphs">24 Hour Chart</text>
<text x="45.6" y="200.6" font-size="89.5" font-weight="bold" fill="#0e1a2c" text-anchor="start" textLength="289.5" lengthAdjust="spacingAndGlyphs">226.18</text>
<text x="358.1" y="201" font-size="23" font-weight="bold" fill="#0e1a2c" text-anchor="start" textLength="69" lengthAdjust="spacingAndGlyphs">1.44%</text>
<path d="M453.4,185.3 L467.2,205.6 L439.6,205.6 Z" fill="#68c07a"/>
<!-- header right -->
<text x="1277" y="34" font-size="22" font-weight="bold" fill="#222222" text-anchor="start" textLength="123" lengthAdjust="spacingAndGlyphs">Powered by</text>
<g fill="#0a0a0a" stroke="#0a0a0a">
<path d="M1309.5,58 H1281.5 V85.8 H1295.5" fill="none" stroke-width="4.7" stroke-linejoin="round" stroke-linecap="round"/>
<circle cx="1281.5" cy="58" r="4.8" stroke="none"/><circle cx="1295.5" cy="58" r="4.8" stroke="none"/><circle cx="1309.5" cy="58" r="4.8" stroke="none"/>
<circle cx="1281.5" cy="72" r="4.8" stroke="none"/>
<circle cx="1281.5" cy="85.8" r="4.8" stroke="none"/><circle cx="1295.5" cy="85.8" r="4.8" stroke="none"/>
<circle cx="1295.7" cy="72.2" r="2.4" stroke="none"/><circle cx="1309.7" cy="72.2" r="2.4" stroke="none"/><circle cx="1309.7" cy="86" r="2.4" stroke="none"/>
</g>
<text x="1319.2" y="83" font-size="31.5" font-weight="bold" fill="#0a0a0a" text-anchor="start" textLength="157.5" lengthAdjust="spacingAndGlyphs">CoinDesk</text>
<text x="1479" y="83" font-size="31.5" font-weight="bold" fill="#0a0a0a" text-anchor="start" textLength="76.5" lengthAdjust="spacingAndGlyphs">Data</text>
<text x="1280.2" y="125" font-size="22.5" font-weight="normal" fill="#b0b0b0" text-anchor="start" textLength="276.5" lengthAdjust="spacingAndGlyphs">20 Oct 2025 18:01 (GMT)</text>
<!-- stats -->
<text x="981.2" y="164.4" font-size="27.6" font-weight="bold" fill="#0e1a2c" text-anchor="start" textLength="86" lengthAdjust="spacingAndGlyphs">222.97</text>
<text x="1102.2" y="164.4" font-size="27.6" font-weight="bold" fill="#0e1a2c" text-anchor="start" textLength="85.2" lengthAdjust="spacingAndGlyphs">234.61</text>
<text x="1223.3" y="164.4" font-size="27.6" font-weight="bold" fill="#0e1a2c" text-anchor="start" textLength="87" lengthAdjust="spacingAndGlyphs">219.22</text>
<text x="1340.2" y="164.4" font-size="27.6" font-weight="bold" fill="#0e1a2c" text-anchor="start" textLength="95.8" lengthAdjust="spacingAndGlyphs">40.92 K</text>
<text x="1466.4" y="164.4" font-size="27.6" font-weight="bold" fill="#0e1a2c" text-anchor="start" textLength="86.5" lengthAdjust="spacingAndGlyphs">9.31 M</text>
<text x="995.1" y="198.6" font-size="23.8" font-weight="normal" fill="#3b4350" text-anchor="start" textLength="60.3" lengthAdjust="spacingAndGlyphs">Open</text>
<text x="1123.2" y="198.6" font-size="23.8" font-weight="normal" fill="#3b4350" text-anchor="start" textLength="48.8" lengthAdjust="spacingAndGlyphs">High</text>
<text x="1245.8" y="198.6" font-size="23.8" font-weight="normal" fill="#3b4350" text-anchor="start" textLength="43.6" lengthAdjust="spacingAndGlyphs">Low</text>
<text x="1372.3" y="198.6" font-size="23.8" font-weight="normal" fill="#3b4350" text-anchor="start" textLength="34.4" lengthAdjust="spacingAndGlyphs">Vol</text>
<text x="1468.2" y="198.6" font-size="23.8" font-weight="normal" fill="#3b4350" text-anchor="start" textLength="85.6" lengthAdjust="spacingAndGlyphs">Vol USD</text>
</g>
</svg>
</body></html>
